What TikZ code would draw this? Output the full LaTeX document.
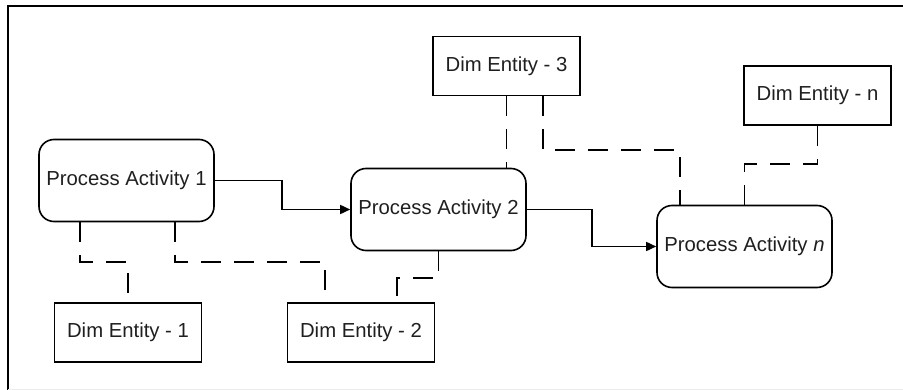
\documentclass[tikz,border=0pt]{standalone}
\usepackage{fontspec}
\setmainfont{Liberation Sans}
\usetikzlibrary{arrows.meta,calc}
\begin{document}
\begin{tikzpicture}[x=1pt,y=-1pt,
  txt/.style={font=\fontsize{20.3}{24}\selectfont, text=black!88},
  procbox/.style={txt, draw, line width=1.6pt, rounded corners=15pt, inner sep=0pt, minimum width=175pt, minimum height=82pt},
  dimbox/.style={txt, draw, line width=1.6pt, inner sep=0pt, minimum width=147pt, minimum height=59pt},
  dl/.style={line width=1.6pt, dash pattern=on 20pt off 13pt},
  arr/.style={line width=1.6pt, -{Triangle[length=10pt,width=9pt]}}]
\useasboundingbox (0,0) rectangle (903,390);
% frame
\draw[line width=2.2pt] (8,390) -- (8,6) -- (903,6);
\draw[black!8, line width=1pt] (8,389) -- (903,389);
% nodes
\node[procbox] (pa1) at (126.5,180.5) {Process Activity 1};
\node[procbox] (pa2) at (438.5,209.5) {Process Activity 2};
\node[procbox] (pan) at (744.5,246.5) {Process Activity \textit{n}};
\node[dimbox] (d3) at (506.5,66) {Dim Entity - 3};
\node[dimbox] (dn) at (817.5,95.5) {Dim Entity - n};
\node[dimbox] (d1) at (128,332.5) {Dim Entity - 1};
\node[dimbox] (d2) at (361,332.5) {Dim Entity - 2};
% helper coordinates
\coordinate (c80) at (80,0);
\coordinate (c175) at (175,0);
\coordinate (c325) at (325,0);
\coordinate (c397) at (397,0);
\coordinate (c543) at (543,0);
\coordinate (c680) at (680,0);
\coordinate (c282) at (282,0);
\coordinate (c592) at (592,0);
% arrows
\draw[arr] (pa1.east) -- (pa1.east -| c282) |- (pa2.west);
\draw[arr] (pa2.east) -- (pa2.east -| c592) |- (pan.west);
% dashed links
\draw[dl] (pa1.south -| c80) -- ++(0,40) -| (d1.north);
\draw[dl] (pa1.south -| c175) -- ++(0,40) -| (d2.north -| c325);
\draw[dl] (pa2.south) -- ++(0,27) -| (d2.north -| c397);
\draw[dl] (d3.south) -- (pa2.north -| d3.south);
\draw[dl] (d3.south -| c543) -- ++(0,54) -| (pan.north -| c680);
\draw[dl] (dn.south) -- ++(0,38) -| (pan.north);
\end{tikzpicture}
\end{document}
